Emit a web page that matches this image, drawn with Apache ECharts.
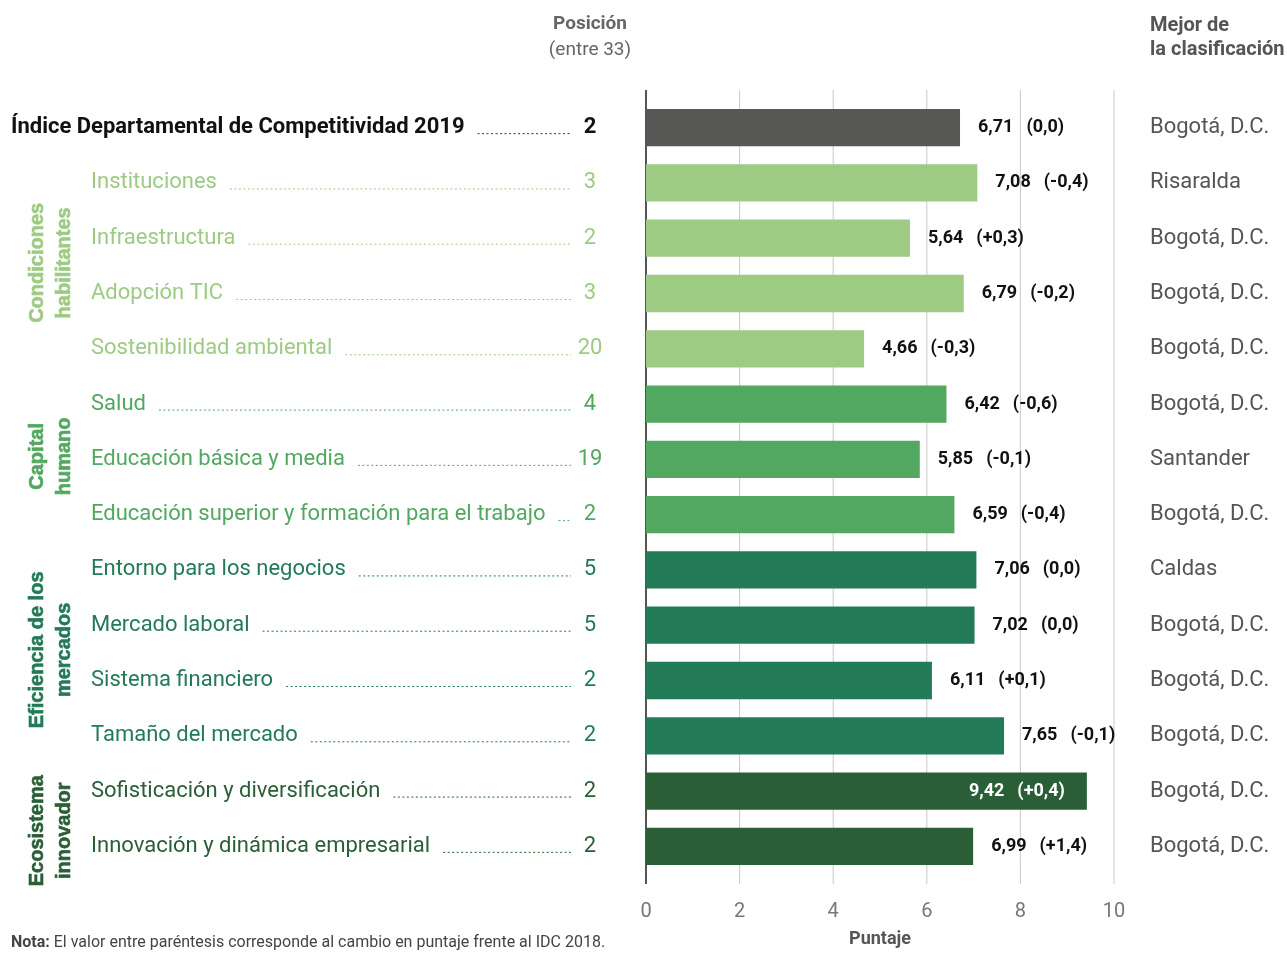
<!DOCTYPE html>
<html>
<head>
<meta charset="utf-8">
<script src="https://cdn.jsdelivr.net/npm/echarts@6/dist/echarts.min.js"></script>
<style>
  html, body { margin: 0; padding: 0; background: #fff; }
  #chart { width: 1287px; height: 953px; }
</style>
</head>
<body>
<div id="chart"></div>
<script>
// Pillars of the departmental competitiveness index (IDC 2019)
const categories = [
  'Índice Departamental de Competitividad 2019',
  'Instituciones',
  'Infraestructura',
  'Adopción TIC',
  'Sostenibilidad ambiental',
  'Salud',
  'Educación básica y media',
  'Educación superior y formación para el trabajo',
  'Entorno para los negocios',
  'Mercado laboral',
  'Sistema financiero',
  'Tamaño del mercado',
  'Sofisticación y diversificación',
  'Innovación y dinámica empresarial'
];
const scores = [6.71, 7.08, 5.64, 6.79, 4.66, 6.42, 5.85, 6.59, 7.06, 7.02, 6.11, 7.65, 9.42, 6.99];
const changes = [0.0, -0.4, 0.3, -0.2, -0.3, -0.6, -0.1, -0.4, 0.0, 0.0, 0.1, -0.1, 0.4, 1.4];
const positions = [2, 3, 2, 3, 20, 4, 19, 2, 5, 5, 2, 2, 2, 2];
const bestRanked = [
  'Bogotá, D.C.', 'Risaralda', 'Bogotá, D.C.', 'Bogotá, D.C.', 'Bogotá, D.C.',
  'Bogotá, D.C.', 'Santander', 'Bogotá, D.C.', 'Caldas', 'Bogotá, D.C.',
  'Bogotá, D.C.', 'Bogotá, D.C.', 'Bogotá, D.C.', 'Bogotá, D.C.'
];
// factor each row belongs to (0 = overall index)
const factorOfRow = [0, 1, 1, 1, 1, 2, 2, 2, 3, 3, 3, 3, 4, 4];
const factorNames = ['', 'Condiciones\nhabilitantes', 'Capital\nhumano', 'Eficiencia de los\nmercados', 'Ecosistema\ninnovador'];
const xTicks = [0, 2, 4, 6, 8, 10];

// styling
const factorColors = ['#575756', '#9dcb83', '#52a860', '#237a57', '#2a5e37'];
const textColors = ['#111111', '#9dcb83', '#52a860', '#237a57', '#2a5e37'];
const FONT = 'Roboto, "Liberation Sans", sans-serif';
const GROUP_FONT = '"Liberation Sans", Arial, sans-serif';

const fmtNum = v => v.toFixed(2).replace('.', ',');
const fmtChange = v => (v > 0 ? '+' : '') + (v === 0 ? '0,0' : v.toFixed(1).replace('.', ','));

const measureCtx = document.createElement('canvas').getContext('2d');
function textWidth(str, font) {
  measureCtx.font = font;
  return measureCtx.measureText(str).width;
}

const NAME_SIZE = 22;
const TOTAL_SIZE = 22;
const LEADER_END = 571;
const POS_CENTER = 590;
const BEST_X = 1150;
const RULE_OVERHANG = 10;

function renderRowText(params, api) {
  const i = params.dataIndex;
  const cs = params.coordSys;
  const y = api.coord([0, i])[1];
  const f = factorOfRow[i];
  const color = textColors[f];
  const isTotal = i === 0;
  const nameX = isTotal ? 11 : 91;
  const weight = isTotal ? 'bold' : 'normal';
  const size = isTotal ? TOTAL_SIZE : NAME_SIZE;
  const w = textWidth(categories[i], weight + ' ' + size + 'px ' + FONT);
  const children = [];

  // vertical rules (value grid + zero line), drawn once, slightly taller than the plot
  if (i === 0) {
    xTicks.forEach(t => {
      const x = api.coord([t, 0])[0];
      const zero = t === 0;
      children.push({
        type: 'line',
        shape: { x1: x, y1: cs.y - RULE_OVERHANG, x2: x, y2: cs.y + cs.height + RULE_OVERHANG },
        style: { stroke: zero ? '#555' : '#c9c9c9', lineWidth: zero ? 2 : 1 }
      });
    });
  }

  children.push(
    {
      type: 'text', x: nameX, y: y,
      style: { text: categories[i], fill: color, fontSize: size, fontWeight: weight,
               fontFamily: FONT, align: 'left', verticalAlign: 'middle' }
    },
    {
      type: 'line',
      shape: { x1: nameX + w + 13, y1: y + 6, x2: LEADER_END, y2: y + 6 },
      style: { stroke: isTotal ? '#333' : color, lineWidth: 1, lineDash: [2, 2.5] }
    },
    {
      type: 'text', x: POS_CENTER, y: y,
      style: { text: String(positions[i]), fill: color, fontSize: size, fontWeight: weight,
               fontFamily: FONT, align: 'center', verticalAlign: 'middle' }
    },
    {
      type: 'text', x: BEST_X, y: y,
      style: { text: bestRanked[i], fill: '#555', fontSize: 22,
               fontFamily: FONT, align: 'left', verticalAlign: 'middle' }
    }
  );
  // factor title, drawn once beside the first row of each factor
  if (f > 0 && factorOfRow[i - 1] !== f) {
    let last = i;
    while (last + 1 < factorOfRow.length && factorOfRow[last + 1] === f) last++;
    const yc = (y + api.coord([0, last])[1]) / 2 + (f === 4 ? 12 : -3);
    children.push({
      type: 'text', x: 51, y: yc, rotation: Math.PI / 2,
      style: { text: factorNames[f], fill: factorColors[f],
               font: 'bold 20px ' + GROUP_FONT,
               align: 'center', verticalAlign: 'middle', lineHeight: 27,
               stroke: factorColors[f], lineWidth: 0.6 }
    });
  }
  return { type: 'group', children: children };
}

const barData = scores.map((v, i) => {
  const item = { value: v, itemStyle: { color: factorColors[factorOfRow[i]] } };
  if (v > 9) {
    item.label = { position: 'insideRight', distance: 22, color: '#fff',
                   rich: { v: { color: '#fff' }, c: { color: '#fff' } } };
  }
  return item;
});

const chart = echarts.init(document.getElementById('chart'), null, { renderer: 'canvas' });
chart.setOption({
  animation: false,
  backgroundColor: '#fff',
  grid: { left: 646, right: 173, top: 100, bottom: 71, containLabel: false },
  xAxis: {
    type: 'value', min: xTicks[0], max: xTicks[xTicks.length - 1], interval: 2,
    axisLine: { show: false }, axisTick: { show: false },
    splitLine: { show: false },
    axisLabel: { color: '#777', fontSize: 20, fontFamily: FONT, margin: 28 },
    name: 'Puntaje', nameLocation: 'middle', nameGap: 56,
    nameTextStyle: { color: '#555', fontSize: 18, fontWeight: 'bold', fontFamily: FONT }
  },
  yAxis: {
    type: 'category', data: categories, inverse: true,
    axisLine: { show: false },
    axisTick: { show: false }, axisLabel: { show: false }, splitLine: { show: false }
  },
  series: [
    {
      type: 'bar', data: barData, barCategoryGap: '32.5%', z: 3,
      label: {
        show: true, position: 'right', distance: 18,
        formatter: p => '{v|' + fmtNum(scores[p.dataIndex]) + '}{c|(' + fmtChange(changes[p.dataIndex]) + ')}',
        rich: {
          v: { color: '#111', fontSize: 18, fontWeight: 'bold', fontFamily: FONT },
          c: { color: '#111', fontSize: 18, fontWeight: 'bold', fontFamily: FONT, padding: [0, 0, 0, 13] }
        }
      }
    },
    {
      type: 'custom', silent: true, clip: false, z: 1,
      data: categories.map((c, i) => [0, i]),
      encode: { x: 0, y: 1 },
      renderItem: renderRowText
    }
  ],
  graphic: [
    { type: 'text', x: 590, y: 24, style: { text: 'Posición', fill: '#666', fontSize: 19, fontWeight: 'bold', fontFamily: FONT, align: 'center', verticalAlign: 'middle' } },
    { type: 'text', x: 590, y: 50, style: { text: '(entre 33)', fill: '#666', fontSize: 19, fontFamily: FONT, align: 'center', verticalAlign: 'middle' } },
    { type: 'text', x: 1150, y: 26, style: { text: 'Mejor de', fill: '#555', fontSize: 20, fontWeight: 'bold', fontFamily: FONT, align: 'left', verticalAlign: 'middle' } },
    { type: 'text', x: 1150, y: 50, style: { text: 'la clasificación', fill: '#555', fontSize: 20, fontWeight: 'bold', fontFamily: FONT, align: 'left', verticalAlign: 'middle' } },
    {
      type: 'text', x: 11, y: 943,
      style: {
        text: '{b|Nota:} El valor entre paréntesis corresponde al cambio en puntaje frente al IDC 2018.',
        fill: '#444', fontSize: 16, fontFamily: FONT, align: 'left', verticalAlign: 'middle',
        rich: { b: { fontWeight: 'bold', fill: '#444', fontSize: 16, fontFamily: FONT } }
      }
    }
  ]
});
</script>
</body>
</html>
